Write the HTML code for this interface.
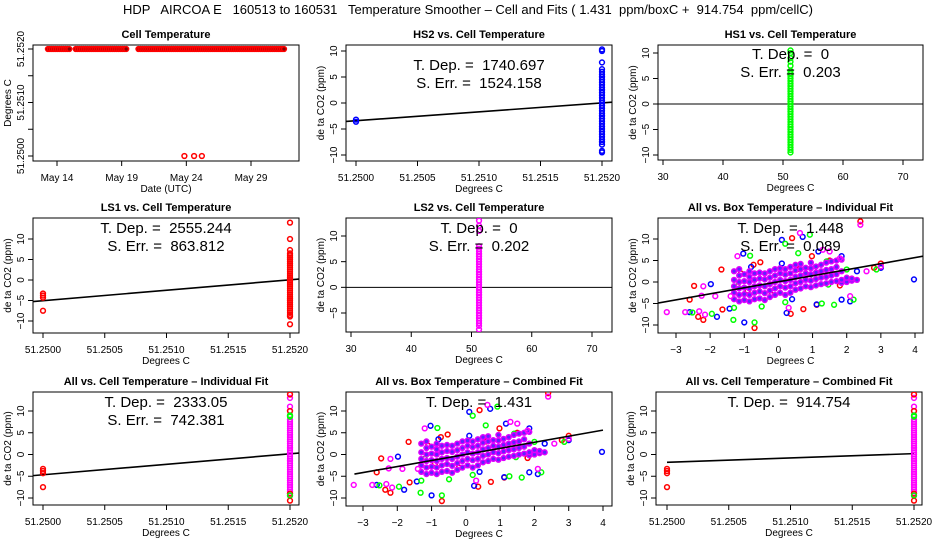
<!DOCTYPE html>
<html><head><meta charset="utf-8"><style>
html,body{margin:0;padding:0;background:#fff}
svg{display:block;font-family:"Liberation Sans",sans-serif}
</style></head><body>
<svg id="chart" width="936" height="540" viewBox="0 0 936 540" xmlns="http://www.w3.org/2000/svg">
<rect width="936" height="540" fill="#fff"/>
<text x="468" y="14" text-anchor="middle" font-size="13">HDP &#160; AIRCOA E &#160; 160513 to 160531 &#160; Temperature Smoother – Cell and Fits ( 1.431 &#160;ppm/boxC + &#160;914.754 &#160;ppm/cellC)</text>
</svg>
<script>
// ---- data ----
const p1Times=[13.3,13.45,13.6,13.75,13.9,14.05,14.2,14.35,14.5,14.65,14.8,14.95,15.45,15.6,15.75,15.9,16.05,16.2,16.35,16.5,16.65,16.8,16.95,17.1,17.25,17.4,17.55,17.7,17.85,18,18.15,18.3,18.45,18.6,18.75,18.9,19.05,19.2,19.35,20.3,20.45,20.6,20.75,20.9,21.05,21.2,21.35,21.5,21.65,21.8,21.95,22.1,22.25,22.4,22.55,22.7,22.85,23,23.15,23.3,23.45,23.6,23.75,23.9,24.05,24.2,24.35,24.5,24.65,24.8,24.95,25.1,25.25,25.4,25.55,25.7,25.85,26,26.15,26.3,26.45,26.6,26.75,26.9,27.05,27.2,27.35,27.5,27.65,27.8,27.95,28.1,28.25,28.4,28.55,28.7,28.85,29,29.15,29.3,29.45,29.6,29.75,29.9,30.05,30.2,30.35,30.5,30.65,30.8,30.95,31.1,31.25,31.4,31.55];
const p1Low=[23.85,24.6,25.2];
const hs2Y=[-9.5,-9.2,-8,-7.5,-7,-6.5,-6,-5.5,-5,-4.5,-4,-3.5,-3,-2.5,-2,-1.5,-1,-0.5,0,0.5,1,1.5,2,2.5,3,3.5,4,4.5,5,5.5,6,6.5,7.8,10,10.3];
const hs1Y=[-9.5,-9,-8.5,-8,-7.5,-7,-6.5,-6,-5.5,-5,-4.5,-4,-3.5,-3,-2.5,-2,-1.5,-1,-0.5,0,0.5,1,1.5,2,2.5,3,3.5,4,4.5,5,5.5,6,6.5,7.5,8.3,9,10,10.5];
const ls1Y=[-10.8,-8.9,-8.5,-8,-7.5,-7,-6.5,-6,-5.5,-5,-4.5,-4,-3.5,-3,-2.5,-2,-1.5,-1,-0.5,0,0.5,1,1.5,2,2.5,3,3.5,4,4.5,5,5.5,6,6.5,7.3,10,14];
const lowRedY=[-3.3,-3.8,-4.3,-7.5];
const ls2Y=[-8.2,-7.5,-7,-6.5,-6,-5.5,-5,-4.5,-4,-3.5,-3,-2.5,-2,-1.5,-1,-0.5,0,0.5,1,1.5,2,2.5,3,3.5,4,4.5,5,5.5,6,6.5,7,7.5,8,11,12,13];
const allColY=[-9.5,-9,-8.5,-8,-7.5,-7,-6.5,-6,-5.5,-5,-4.5,-4,-3.5,-3,-2.5,-2,-1.5,-1,-0.5,0,0.5,1,1.5,2,2.5,3,3.5,4,4.5,5,5.5,6,6.5,7,7.5,8,9,10,11,13];
const allRedY=[-10.6,-9,10,13.8];
const allGreenY=[-9.4,8.7,9];
const redX=[2.4,0.4,-1.67,-2.47,-2.6,-2.35,-2.2,-1.64,-0.7,-0.53,0.36,0.73,1.12,0.98,1.8,2.8,3.0,-0.73,-1.1,-0.2,0.6,1.5,-0.9];
const redY=[14.1,10.2,2.9,-0.9,-4.1,-8.1,-8.8,-6.4,-10.7,4.6,-7.4,-6.3,-5.3,6,-0.8,3.3,4.3,4,2,-3,3,5,-2];
const blueX=[-1.03,0.1,0.71,0.1,-1.98,-1.8,-2.6,-1.0,-1.43,0.24,1.85,2.1,2.3,3.0,3.97,1.12,1.85,1.17,-0.8,0.4];
const blueY=[6.6,9.8,10.5,4.3,-0.5,-8.1,-7,-9.4,-6.2,-7.2,-4.1,-4.5,2.5,3.3,0.6,-5.2,6,7.1,3.5,-4];
const greenX=[0.92,0.2,-0.83,-1.32,-1.3,-1.95,-2.52,-0.7,-0.49,0.2,1.27,1.63,2.2,2.0,2.87,0.58,1.41,1.46,-1.2,0.9];
const greenY=[11,8.9,6.1,-8.8,-6,-7.4,-7.1,-9.4,-5.7,-4.7,-5,-5.3,-4.1,2.9,2.9,6.7,4.8,-0.6,-1,1];
const magX=[-3.27,-2.73,-2.32,-2.2,-2.25,-1.85,-1.2,0.63,1.3,1.5,2.1,2.58,2.4,3.0,0.3,-2.15,-1.4,1.8];
const magY=[-7,-7,-6.8,-1,-3.2,-3.3,6,11.4,7.5,7.1,-3.3,2.5,13.3,3.6,-6,-7.6,-3.3,5.5];
const coreX=[-1.3,-1.3,-1.3,-1.3,-1.3,-1.15,-1.15,-1.15,-1.15,-1.15,-1.15,-1,-1,-1,-1,-1,-0.85,-0.85,-0.85,-0.85,-0.85,-0.85,-0.7,-0.7,-0.7,-0.7,-0.7,-0.55,-0.55,-0.55,-0.55,-0.55,-0.4,-0.4,-0.4,-0.4,-0.4,-0.25,-0.25,-0.25,-0.25,-0.25,-0.1,-0.1,-0.1,-0.1,-0.1,0.05,0.05,0.05,0.05,0.05,0.2,0.2,0.2,0.2,0.2,0.35,0.35,0.35,0.35,0.35,0.5,0.5,0.5,0.5,0.5,0.65,0.65,0.65,0.65,0.65,0.8,0.8,0.8,0.8,0.95,0.95,0.95,0.95,0.95,1.1,1.1,1.1,1.1,1.25,1.25,1.25,1.25,1.4,1.4,1.4,1.4,1.55,1.55,1.55,1.55,1.7,1.7,1.7,1.7,1.85,1.85,1.85,1.85,2,2,2.15,2.15,2.3];
const coreY=[-4,-2.5,-1,0.5,2.5,-4.5,-3,-1.5,0,1.5,3,-4.2,-2.8,-1.3,0.2,1.8,-4.5,-3,-1.5,0,1.2,2.5,-4,-2.5,-1,0.5,2,-3.8,-2.2,-0.8,0.8,2.2,-4.2,-2.6,-1,0.6,2,-3.5,-2,-0.5,1,2.5,-3,-1.5,0,1.5,3,-2.5,-1,0.5,2,3.2,-3,-1.3,0.2,1.7,3,-2.5,-1,0.5,2,3.5,-1.8,-0.3,1.2,2.7,4,-1.5,0,1.5,3,4.2,-1,0.5,2,3.3,-1.2,0.3,1.8,3.2,4.5,-0.8,0.7,2.2,3.6,-0.5,1,2.5,4,-0.3,1.2,2.8,4.5,0,1.5,3,4.8,0.2,1.8,3.5,5,-0.2,0.5,2.5,5.2,0,1,0.3,0.8,0.5];
const p1XTicks=[14,19,24,29];
const p1XLabels=["May 14","May 19","May 24","May 29"];
const cellTicks=[51.25,51.2505,51.251,51.2515,51.252];
const cellLabels=["51.2500","51.2505","51.2510","51.2515","51.2520"];
const degTicks=[30,40,50,60,70];
const boxTicks=[-3,-2,-1,0,1,2,3,4];
const yTicks=[-10,-5,0,5,10];

// ---- helpers ----
const NS="http://www.w3.org/2000/svg";
const NB="\u00a0";
const svg=document.getElementById('chart');
function mk(tag,attrs,parent){const e=document.createElementNS(NS,tag);for(const k in attrs)e.setAttribute(k,attrs[k]);(parent||svg).appendChild(e);return e;}
function lin(d0,d1,r0,r1){return v=>r0+(v-d0)*(r1-r0)/(d1-d0);}
function panel(o){
  const g=mk('g',{});
  
  
  const [L,T,R,B]=o.box;
  const t=mk('text',{x:(L+R)/2,y:T-7,'text-anchor':'middle','font-size':'11','font-weight':'bold'},g);
  
  
  t.textContent=o.title;
  const fr=mk('rect',{x:L,y:T,width:R-L,height:B-T,fill:'none',stroke:'#000','stroke-width':1},g);
  
  
  const xa=mk('g',{},g);
  
  
  const xs=o.xs, ys=o.ys;
  mk('line',{x1:xs(o.xt[0]),x2:xs(o.xt[o.xt.length-1]),y1:B,y2:B,stroke:'#000'},xa);
  o.xt.forEach((v,i)=>{mk('line',{x1:xs(v),x2:xs(v),y1:B,y2:B+5,stroke:'#000'},xa);
    const lt=mk('text',{x:xs(v),y:B+20,'text-anchor':'middle','font-size':'10'},xa);
    
    
    lt.textContent=o.xl[i];});
  const xt=mk('text',{x:(L+R)/2,y:B+31,'text-anchor':'middle','font-size':'10'},g);
  
  
  xt.textContent=o.xlab;
  const ya=mk('g',{},g);
  
  
  const yt=o.yt.filter(v=>ys(v)>=T-1&&ys(v)<=B+1);
  mk('line',{x1:L,x2:L,y1:ys(yt[0]),y2:ys(yt[yt.length-1]),stroke:'#000'},ya);
  yt.forEach((v,i)=>{mk('line',{x1:L-5,x2:L,y1:ys(v),y2:ys(v),stroke:'#000'},ya);
    const lab=o.yl?o.yl[o.yt.indexOf(v)]:String(v).replace('-','−');
    if(lab===null)return;
    const lt=mk('text',{x:0,y:0,'text-anchor':'middle','font-size':'10',transform:`translate(${L-9},${ys(v)}) rotate(-90)`},ya);
    
    
    lt.textContent=lab;});
  const ytt=mk('text',{x:0,y:0,'text-anchor':'middle','font-size':'10',transform:`translate(${L-22},${(T+B)/2}) rotate(-90)`},g);
  
  
  ytt.textContent=o.ylab;
  const clip='clip-'+o.name;
  const cp=mk('clipPath',{id:clip},g);mk('rect',{x:L,y:T,width:R-L,height:B-T},cp);
  const pg=mk('g',{'clip-path':`url(#${clip})`},g);
  
  
  return {g,pg,xs,ys,L,T,R,B};
}
function pts(p,xArr,yArr,color,name,fill){
  xArr.forEach((x,i)=>{const c=mk('circle',{cx:p.xs(x),cy:p.ys(yArr[i]),r:2.4,fill:fill||'none',stroke:color,'stroke-width':1.5},p.pg);
    
    });
}
function col(p,x,yArr,color,name){pts(p,yArr.map(()=>x),yArr,color,name);}
function fitLine(p,x0,y0,x1,y1){const l=mk('line',{x1:p.xs(x0),y1:p.ys(y0),x2:p.xs(x1),y2:p.ys(y1),stroke:'#000','stroke-width':1.6},p.pg);
  
  }
function hline(p){const l=mk('line',{x1:p.L,x2:p.R,y1:p.ys(0),y2:p.ys(0),stroke:'#000','stroke-width':1},p.pg);
  
  }
function ann(p,lines,y0){lines.forEach((s,i)=>{const t=mk('text',{x:(p.L+p.R)/2,y:y0+i*18,'text-anchor':'middle','font-size':'15'},p.g);
  
  
  t.textContent=s.replace('= ','='+NB+NB);});}
const Y='de ta CO2 (ppm)';

// Panel 1
let p=panel({name:'cell-temperature-panel',title:'Cell Temperature',box:[33,45,299,161],xs:lin(14,29,57,251),ys:lin(51.25,51.252,156,49),
  xt:p1XTicks,xl:p1XLabels,yt:[51.25,51.2505,51.251,51.2515,51.252],yl:['51.2500',null,'51.2510',null,'51.2520'],xlab:'Date (UTC)',ylab:'Degrees C'});
pts(p,p1Times,p1Times.map(()=>51.252),'#f00','cell-temp-point','#800');
pts(p,p1Low,p1Low.map(()=>51.25),'#f00','cell-temp-point');

// Panel 2
p=panel({name:'hs2-panel',title:'HS2 vs. Cell Temperature',box:[346,45,612,161],xs:lin(51.25,51.252,356,602),ys:lin(-10,10,155,51),
  xt:cellTicks,xl:cellLabels,yt:yTicks,xlab:'Degrees C',ylab:Y});
fitLine(p,51.2498,-3.75,51.2522,0.35);
col(p,51.252,hs2Y,'#00f','hs2-point');
pts(p,[51.25,51.25],[-3.2,-3.6],'#00f','hs2-point');
ann(p,['T. Dep. = 1740.697','S. Err. = 1524.158'],70);

// Panel 3
p=panel({name:'hs1-panel',title:'HS1 vs. Cell Temperature',box:[658,45,923,160],xs:lin(30,70,663,903),ys:lin(-10,10,155,53),
  xt:degTicks,xl:degTicks.map(String),yt:yTicks,xlab:'Degrees C',ylab:Y});
hline(p);
col(p,51.25,hs1Y,'#0f0','hs1-point');
ann(p,['T. Dep. = 0','S. Err. = 0.203'],59);

// Panel 4
p=panel({name:'ls1-panel',title:'LS1 vs. Cell Temperature',box:[33,218,299,333],xs:lin(51.25,51.252,43,290),ys:lin(-10,10,321,239),
  xt:cellTicks,xl:cellLabels,yt:yTicks,xlab:'Degrees C',ylab:Y});
fitLine(p,51.2499,-5.3,51.2521,0.3);
col(p,51.252,ls1Y,'#f00','ls1-point');
col(p,51.25,lowRedY,'#f00','ls1-point');
ann(p,['T. Dep. = 2555.244','S. Err. = 863.812'],233);

// Panel 5
p=panel({name:'ls2-panel',title:'LS2 vs. Cell Temperature',box:[346,218,612,332],xs:lin(30,70,351,592),ys:lin(-5,10,313,236),
  xt:degTicks,xl:degTicks.map(String),yt:yTicks,xlab:'Degrees C',ylab:Y});
hline(p);
col(p,51.25,ls2Y,'#f0f','ls2-point');
ann(p,['T. Dep. = 0','S. Err. = 0.202'],233);

// Panel 6
function boxScatter(p){
  pts(p,redX,redY,'#f00','red-point');pts(p,blueX,blueY,'#00f','blue-point');pts(p,greenX,greenY,'#0f0','green-point');
  pts(p,coreX,coreY,'#e000ff','core-point','#6020ff');pts(p,magX,magY,'#f0f','magenta-point');
}
p=panel({name:'all-vs-box-individual-panel',title:'All vs. Box Temperature – Individual Fit',box:[658,218,923,333],xs:lin(-3,4,676,915),ys:lin(-10,10,325,239),
  xt:boxTicks,xl:boxTicks.map(v=>String(v).replace('-','−')),yt:yTicks,xlab:'Degrees C',ylab:Y});
boxScatter(p);
fitLine(p,-3.6,-5.0,4.3,6.1);
ann(p,['T. Dep. = 1.448','S. Err. = 0.089'],233);

// Panel 7
function allCol(p){
  col(p,51.252,allColY,'#f0f','all-point');
  col(p,51.252,allRedY,'#f00','all-red-point');
  col(p,51.252,allGreenY,'#0f0','all-green-point');
  col(p,51.25,lowRedY,'#f00','all-red-point');
}
p=panel({name:'all-vs-cell-individual-panel',title:'All vs. Cell Temperature – Individual Fit',box:[33,392,299,505],xs:lin(51.25,51.252,43,290),ys:lin(-10,10,498,411),
  xt:cellTicks,xl:cellLabels,yt:yTicks,xlab:'Degrees C',ylab:Y});
fitLine(p,51.2499,-4.9,51.2521,0.4);
allCol(p);
ann(p,['T. Dep. = 2333.05','S. Err. = 742.381'],407);

// Panel 8
p=panel({name:'all-vs-box-combined-panel',title:'All vs. Box Temperature – Combined Fit',box:[346,392,612,506],xs:lin(-3,4,363,603),ys:lin(-10,10,498,411),
  xt:boxTicks,xl:boxTicks.map(v=>String(v).replace('-','−')),yt:yTicks,xlab:'Degrees C',ylab:Y});
boxScatter(p);
fitLine(p,-3.25,-4.5,4,5.6);
ann(p,['T. Dep. = 1.431'],407);

// Panel 9
p=panel({name:'all-vs-cell-combined-panel',title:'All vs. Cell Temperature – Combined Fit',box:[656,392,922,505],xs:lin(51.25,51.252,667,914),ys:lin(-10,10,498,411),
  xt:cellTicks,xl:cellLabels,yt:yTicks,xlab:'Degrees C',ylab:Y});
fitLine(p,51.25,-1.8,51.252,0.2);
allCol(p);
ann(p,['T. Dep. = 914.754'],407);
</script>
</body></html>
